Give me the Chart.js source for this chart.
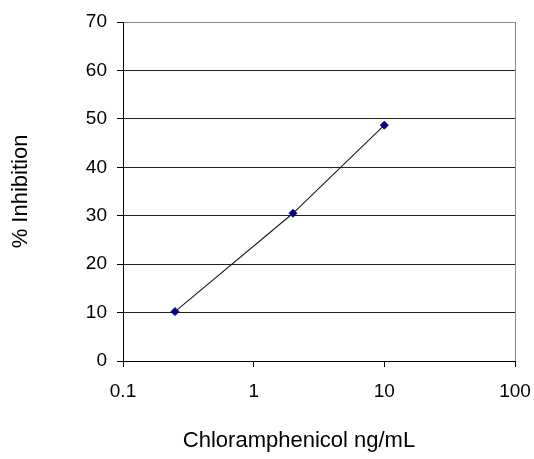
<!DOCTYPE html>
<html>
<head>
    <meta charset="utf-8">
    <style>
        html, body { margin: 0; padding: 0; background: #fff; }
        #wrap { position: relative; width: 534px; height: 459px; }
    </style>
</head>
<body>
<div id="wrap">
    <canvas id="inhibition-chart" width="534" height="459"></canvas>
</div>
<script src="https://cdn.jsdelivr.net/npm/chart.js"></script>
<script type="text/javascript">
    // values
    const concentrations = [0.25, 2, 10];      // ng/mL
    const inhibition = [10.2, 30.5, 48.7];     // %
    const xTickValues = [0.1, 1, 10, 100];
    const yTickValues = [0, 10, 20, 30, 40, 50, 60, 70];

    const FONT = "'Liberation Sans', Arial, sans-serif";

    // x title is centred under the whole figure, not the plot, so draw it here
    const xTitlePlugin = {
        id: 'xTitle',
        afterDraw(chart) {
            const ctx = chart.ctx;
            ctx.save();
            ctx.font = '22px ' + FONT;
            ctx.fillStyle = '#000';
            ctx.textAlign = 'center';
            ctx.textBaseline = 'middle';
            ctx.fillText('Chloramphenicol ng/mL', 299, 441);
            ctx.restore();
        }
    };

    const points = concentrations.map((c, i) => ({ x: c, y: inhibition[i] }));

    new Chart(document.getElementById('inhibition-chart'), {
        type: 'scatter',
        data: {
            datasets: [{
                data: points,
                showLine: true,
                borderColor: '#1a1a1a',
                borderWidth: 1.1,
                pointStyle: 'rectRot',
                pointRadius: 4,
                pointBackgroundColor: '#000080',
                pointBorderColor: '#000080',
                pointBorderWidth: 1
            }]
        },
        options: {
            responsive: false,
            animation: false,
            layout: { padding: { top: 22, right: 19, left: 0, bottom: 0 } },
            plugins: {
                legend: { display: false },
                tooltip: { enabled: false }
            },
            scales: {
                x: {
                    type: 'logarithmic',
                    min: 0.1,
                    max: 100,
                    afterBuildTicks: (scale) => {
                        scale.ticks = xTickValues.map(v => ({ value: v }));
                    },
                    afterFit: (scale) => {
                        scale.height = 98;
                        scale.paddingLeft = 0;
                        scale.paddingRight = 0;
                    },
                    border: { color: '#000', width: 1 },
                    grid: {
                        color: (ctx) => ctx.tick && ctx.tick.value === 100 ? '#888' : 'rgba(0,0,0,0)',
                        tickColor: '#000',
                        tickLength: 6,
                        lineWidth: 1
                    },
                    ticks: {
                        color: '#000',
                        padding: 13,
                        font: { family: FONT, size: 19 },
                        callback: (v) => String(v)
                    }
                },
                y: {
                    min: 0,
                    max: 70,
                    afterBuildTicks: (scale) => {
                        scale.ticks = yTickValues.map(v => ({ value: v }));
                    },
                    afterFit: (scale) => { scale.width = 123; },
                    border: { color: '#000', width: 1 },
                    grid: {
                        color: (ctx) => ctx.tick && ctx.tick.value === 70 ? '#888' : '#222',
                        tickColor: '#000',
                        tickLength: 6,
                        lineWidth: 1
                    },
                    ticks: {
                        color: '#000',
                        padding: 10,
                        font: { family: FONT, size: 19 }
                    },
                    title: {
                        display: true,
                        text: '% Inhibition',
                        color: '#000',
                        font: { family: FONT, size: 22 },
                        padding: { top: 8, bottom: 0 }
                    }
                }
            }
        },
        plugins: [xTitlePlugin]
    });
</script>
</body>
</html>
